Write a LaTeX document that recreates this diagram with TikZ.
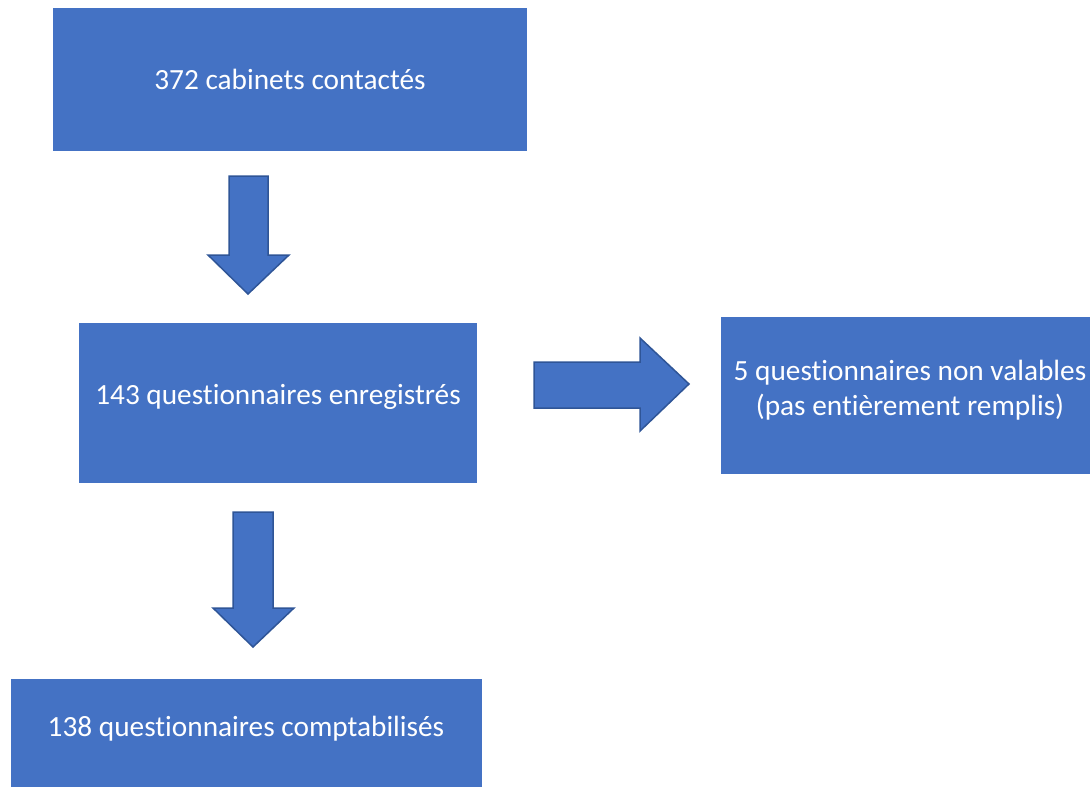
\documentclass[tikz,border=0pt]{standalone}
\usepackage{fontspec}
\setmainfont{Carlito}[Ligatures=NoCommon]
\definecolor{boxblue}{HTML}{4472C4}
\definecolor{edgeblue}{HTML}{2F5597}
\begin{document}
\begin{tikzpicture}[x=1pt,y=-1pt,
  box/.style={fill=boxblue,draw=none,text=white,font=\fontsize{29.3}{35}\selectfont,align=center,inner sep=0pt},
  blockarrow/.style={fill=boxblue,draw=edgeblue,line width=1.5pt,line join=miter}]
\useasboundingbox (0,0) rectangle (1090,787);
\fill[white] (0,0) rectangle (1090,787);
% boxes
\fill[boxblue] (53,8) rectangle (527,151);
\node[box] (b1) at (290,79) {372 cabinets contactés};
\fill[boxblue] (79,323) rectangle (477,483);
\node[box] (b2) at (278,397) {143 questionnaires enregistrés};
\fill[boxblue] (721,317) rectangle (1090,474);
\node[box] (b3) at (910,390) {5 questionnaires non valables\\(pas entièrement remplis)};
\fill[boxblue] (11,679) rectangle (482,790);
\node[box] (b4) at (246,729) {138 questionnaires comptabilisés};
% block arrows
\draw[blockarrow] (229,176) -- (268,176) -- (268,255) -- (289,255) -- (248,294) -- (208,255) -- (229,255) -- cycle;
\draw[blockarrow] (233,512) -- (273,512) -- (273,608) -- (294,608) -- (253,647) -- (213,608) -- (233,608) -- cycle;
\draw[blockarrow] (534,362) -- (640,362) -- (640,338) -- (689,384) -- (640,431) -- (640,408) -- (534,408) -- cycle;
\end{tikzpicture}
\end{document}
